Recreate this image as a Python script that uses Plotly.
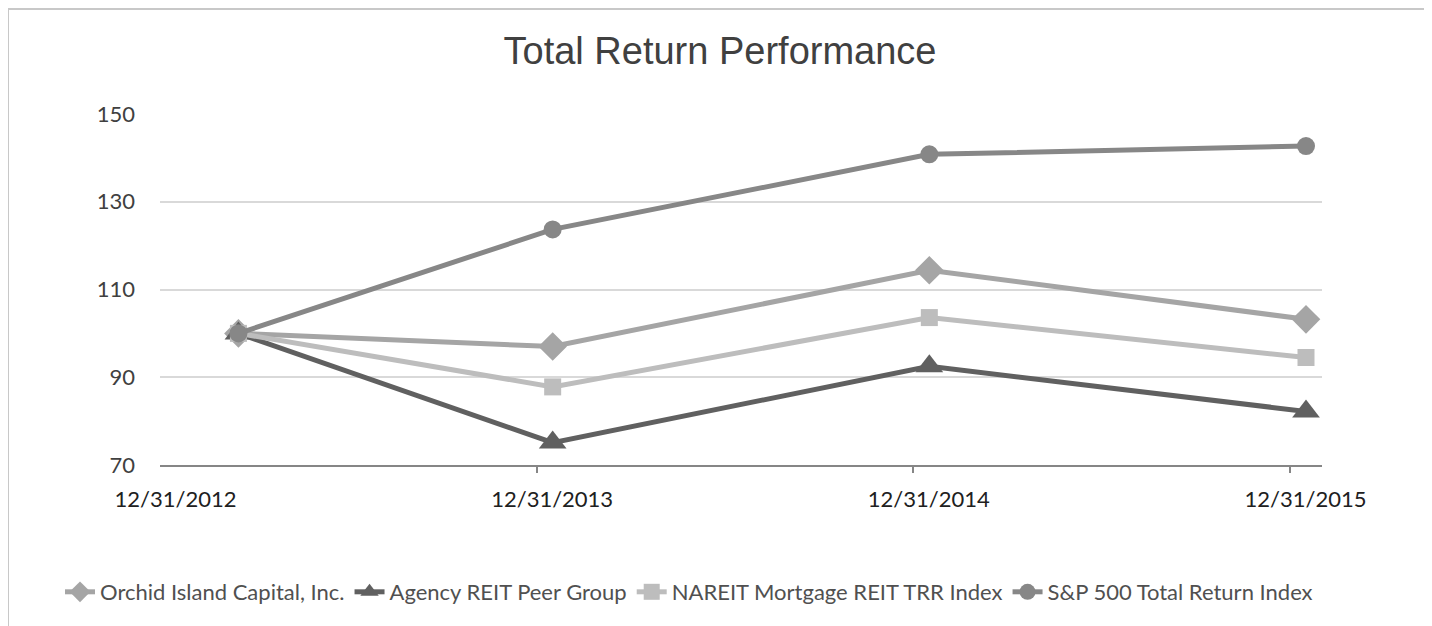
import plotly.graph_objects as go

# ---- data ----
dates = ["2013-02-13", "2013-12-31", "2014-12-31", "2015-12-31"]
orchid = [100, 97.0, 114.4, 103.2]
agency = [100, 75.1, 92.5, 82.2]
nareit = [100, 87.8, 103.6, 94.5]
sp500 = [100, 123.7, 140.8, 142.7]

tick_dates = ["2012-12-16", "2013-12-16", "2014-12-16", "2015-12-16"]
tick_labels = ["12/31/2012", "12/31/2013", "12/31/2014", "12/31/2015"]
tickmark_dates = ["2013-12-01", "2014-12-01", "2015-12-01"]

series = [
    ("Orchid Island Capital, Inc.", orchid, "#a5a5a5", "diamond", 22),
    ("Agency REIT Peer Group", agency, "#606060", "triangle-up", 24),
    ("NAREIT Mortgage REIT TRR Index", nareit, "#bdbdbd", "square", 17),
    ("S&P 500 Total Return Index", sp500, "#878787", "circle", 18),
]

# page offset (body margin) is 8px
W, H = 1424, 618
L, T, PW, PH = 152, 106, 1162, 351

fig = go.Figure()
for name, vals, col, sym, sz in series:
    fig.add_trace(go.Scatter(
        x=dates, y=vals, name=name, mode="lines+markers",
        xperiod="M1", xperiodalignment="middle",
        line=dict(color=col, width=5),
        marker=dict(symbol=sym, size=sz, color=col),
    ))

fig.update_layout(
    width=W, height=H,
    margin=dict(l=L, r=W - L - PW, t=T, b=H - T - PH),
    paper_bgcolor="white", plot_bgcolor="white",
    title=dict(text="Total Return Performance", x=0.5, xanchor="center",
               y=1 - 43 / H, yanchor="middle",
               font=dict(family="Liberation Sans, Arial", size=38, color="#404040")),
    font=dict(family="Lato, Open Sans, sans-serif", color="#404040"),
    showlegend=True,
    legend=dict(orientation="h", x=(52 - L) / PW, xanchor="left",
                y=(T + PH - 584) / PH, yanchor="middle",
                font=dict(size=22, color="#505050"),
                itemwidth=30, tracegroupgap=0),
    shapes=[dict(type="rect", xref="paper", yref="paper",
                 x0=(0 - L) / PW, x1=(1420 - L) / PW,
                 y0=-0.7, y1=(T + PH - 1) / PH,
                 line=dict(color="#c8c8c8", width=2), layer="below")],
)

fig.update_xaxes(
    type="date", range=["2012-12-01", "2016-01-01"],
    tickmode="array", tickvals=tick_dates, ticktext=tick_labels,
    ticks="outside", ticklen=14, tickcolor="rgba(0,0,0,0)",
    tickfont=dict(size=22, color="#202020"),
    showgrid=False, showline=True, linecolor="#868686", linewidth=1.5,
    minor=dict(tickmode="array", tickvals=tickmark_dates, ticks="outside",
               ticklen=6, tickcolor="#868686", tickwidth=1.5, showgrid=False),
)
fig.update_yaxes(
    range=[70, 150], tickmode="array", tickvals=[70, 90, 110, 130, 150],
    showgrid=True, gridcolor="#d9d9d9", gridwidth=1.5, zeroline=False,
    showline=False, ticks="", ticklabelstandoff=24,
    tickfont=dict(size=22, color="#404040"),
)

fig.write_html("out.html")
